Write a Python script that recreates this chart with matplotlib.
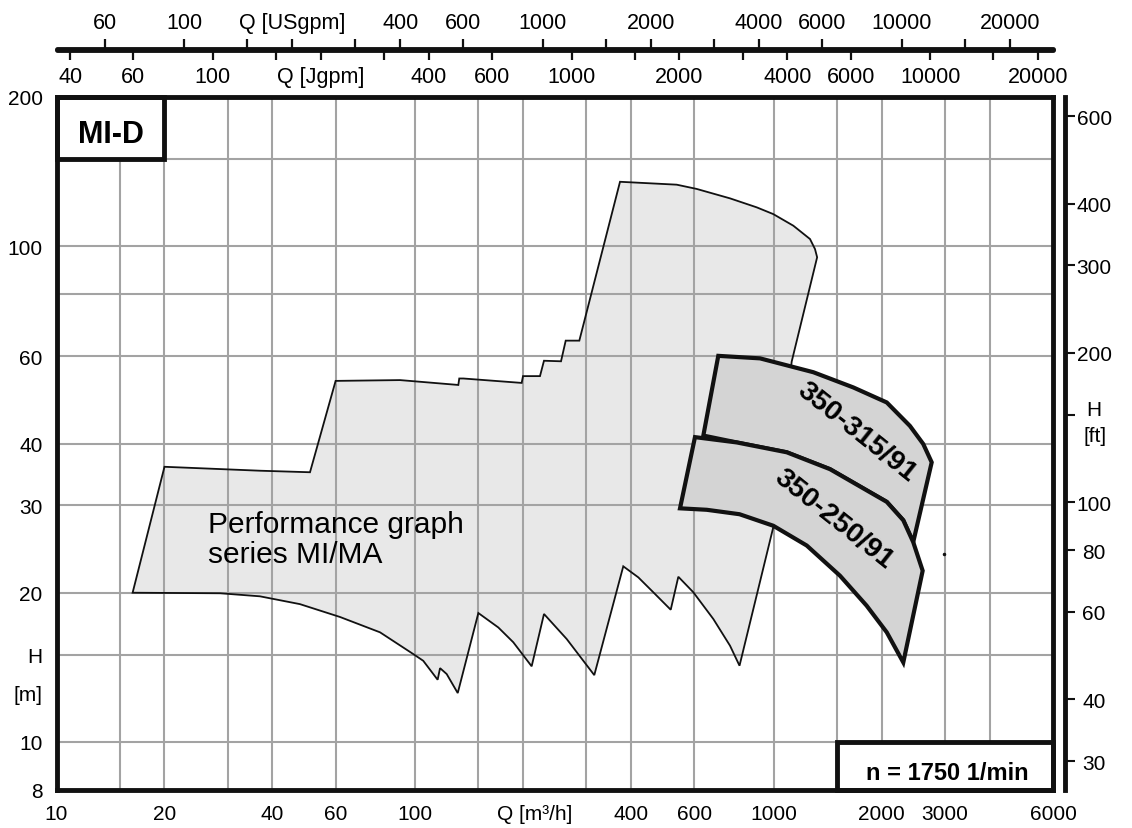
import matplotlib.pyplot as plt
from matplotlib.patches import Rectangle
from matplotlib.ticker import NullLocator
from matplotlib.transforms import blended_transform_factory

plt.rcParams['font.family'] = ['Liberation Sans', 'DejaVu Sans']

# unit conversions
M_TO_FT = 3.28084
M3H_TO_USGPM = 4.4029
M3H_TO_JGPM = 3.6662

# performance envelope (Q in m3/h, H in m), traced clockwise
env_q = [16.3, 20.0, 36.9, 50.9, 60.0, 90.7, 131.9, 132.7, 136.2, 198.1, 199.8, 222.8,
         228.6, 255.0, 262.8, 286.8, 372.4, 535.8, 609, 754.5, 895.5, 996, 1133, 1261,
         1302, 1320,
         1121, 996, 802, 754.5, 678, 596.3, 541.5, 515.7, 461.2, 418.8, 380.3, 315.7,
         264.5, 228.6, 211.2, 187.7, 170.5, 150.0, 131.4, 122.4, 117.3, 115.5, 105.3,
         98.8, 79.8, 61.7, 47.7, 36.9, 28.6]
env_h = [20.0, 35.9, 35.25, 35.0, 53.5, 53.7, 52.5, 54.1, 54.1, 53.0, 54.7, 54.7,
         58.75, 58.6, 64.5, 64.5, 134.9, 133.1, 130.5, 124.9, 119.8, 116.1, 110.0, 103.4,
         98.7, 95.0,
         58.5, 27.1, 14.25, 15.64, 17.7, 20.04, 21.54, 18.48, 20.04, 21.48, 22.61, 13.64,
         16.13, 18.12, 14.21, 15.89, 17.02, 18.2, 12.55, 13.71, 14.09, 13.35, 14.58,
         15.04, 16.64, 17.87, 18.97, 19.67, 19.95]

# pump 350-315/91
p315_q = [699.8, 915, 1288, 1665, 2064, 2395, 2609, 2754, 2446, 2295, 2064, 1853,
          1434, 1086, 787.5, 635.8]
p315_h = [60.1, 59.4, 55.7, 51.9, 48.4, 43.4, 39.9, 36.65, 25.3, 28.0, 30.5, 31.9,
          35.5, 38.4, 40.2, 41.5]

# pump 350-250/91
p250_q = [602.6, 787.5, 1086, 1434, 1853, 2064, 2295, 2446, 2599, 2295, 2064, 1814,
          1529, 1235, 996, 802, 649.8, 547.4]
p250_h = [41.2, 40.2, 38.4, 35.5, 31.9, 30.5, 28.0, 25.3, 22.15, 14.47, 16.64, 18.83,
          21.64, 24.9, 27.3, 28.8, 29.4, 29.6]

grid_q = [15, 20, 30, 40, 60, 100, 150, 200, 300, 400, 600, 1000, 1500, 2000, 3000, 4000]
grid_h = [10, 15, 20, 30, 40, 60, 80, 100, 150]

q_ticks = [10, 20, 40, 60, 100, 215, 400, 600, 1000, 2000, 3000, 6000]
q_labels = ['10', '20', '40', '60', '100', 'Q [m³/h]', '400', '600', '1000', '2000', '3000', '6000']
h_ticks = [8, 10, 12.6, 15, 20, 30, 40, 60, 100, 200]
h_labels = ['8', '10', '[m]', 'H', '20', '30', '40', '60', '100', '200']
ft_ticks = [30, 40, 60, 80, 100, 150, 200, 300, 400, 600]
ft_labels = ['30', '40', '60', '80', '100', 'H', '200', '300', '400', '600']
us_ticks = [60, 100, 150, 200, 300, 400, 600, 1000, 1500, 2000, 3000, 4000, 6000,
            10000, 15000, 20000]
us_labels = ['60', '100', '', 'Q [USgpm]', '', '400', '600', '1000', '', '2000', '',
             '4000', '6000', '10000', '', '20000']
jg_ticks = [40, 60, 100, 150, 200, 300, 400, 600, 1000, 1500, 2000, 3000, 4000, 6000,
            10000, 15000, 20000]
jg_labels = ['40', '60', '100', '', 'Q [Jgpm]', '', '400', '600', '1000', '', '2000', '',
             '4000', '6000', '10000', '', '20000']

INK = '#111111'
fig = plt.figure(figsize=(11.32, 8.29), dpi=100)
L, B = 56.5 / 1132, 1 - 791 / 829
W, HH = (1053 - 56.5) / 1132, (791 - 98) / 829
ax = fig.add_axes([L, B, W, HH])
ax.set_xscale('log')
ax.set_yscale('log')
ax.set_xlim(10, 6000)
ax.set_ylim(8, 200)

ax2 = ax.twinx()
ax2.set_yscale('log')
ax2.set_ylim(8 * M_TO_FT, 200 * M_TO_FT)
ax2.yaxis.set_minor_locator(NullLocator())
ax2.set_yticks(ft_ticks, ft_labels)
for k in ['left', 'top', 'bottom']:
    ax2.spines[k].set_visible(False)
ax2.spines['right'].set_position(('outward', 8.6))
ax2.spines['right'].set_linewidth(3.5)
ax2.spines['right'].set_color(INK)
ax2.tick_params(axis='y', direction='out', length=7, width=1.5, pad=14,
                labelsize=15, color=INK)
for t in ax2.get_yticklabels():
    t.set_horizontalalignment('center')
    if t.get_text() == 'H':
        t.set_verticalalignment('baseline')
tr = blended_transform_factory(fig.transFigure, ax2.transData)
ax2.text(1095 / 1132, 136, '[ft]', transform=tr, ha='center', va='center', fontsize=15)

# grid, envelope, pumps
ax.fill(env_q, env_h, facecolor='#e8e8e8', edgecolor='none', zorder=1)
for q in grid_q:
    ax.axvline(q, color='#a3a3a3', lw=1.5, zorder=1.5)
for h in grid_h:
    ax.axhline(h, color='#a3a3a3', lw=1.5, zorder=1.5)
ax.fill(env_q, env_h, facecolor='none', edgecolor=INK, lw=1.3, zorder=2)
ax.fill(p315_q, p315_h, facecolor='#d4d4d4', edgecolor=INK, lw=3, zorder=3)
ax.fill(p250_q, p250_h, facecolor='#d4d4d4', edgecolor=INK, lw=3, zorder=3.5)
ax.text(1702, 42.3, '350-315/91', rotation=-38.5, rotation_mode='anchor',
        ha='center', va='center', fontsize=20.5, fontweight='bold', zorder=4)
ax.text(1471, 28.2, '350-250/91', rotation=-38.5, rotation_mode='anchor',
        ha='center', va='center', fontsize=20.5, fontweight='bold', zorder=4)
ax.plot([2980], [23.9], 'o', color=INK, ms=1.5, zorder=4)

ax.text(26.4, 26.5, 'Performance graph', fontsize=21.5, va='baseline', zorder=4)
ax.text(26.4, 23.1, 'series MI/MA', fontsize=21.5, va='baseline', zorder=4)

# labelled boxes
ax.add_patch(Rectangle((10, 150), 10, 50, facecolor='white', edgecolor=INK,
                       lw=3.5, zorder=5, clip_on=False))
ax.text(14.14, 162.5, 'MI-D', ha='center', va='baseline', fontsize=22,
        fontweight='bold', zorder=6)
ax.add_patch(Rectangle((1500, 8), 4500, 2, facecolor='white', edgecolor=INK,
                       lw=3.5, zorder=5, clip_on=False))
ax.text(3040, 8.42, 'n = 1750 1/min', ha='center', va='baseline', fontsize=17,
        fontweight='bold', zorder=6)

ax.xaxis.set_minor_locator(NullLocator())
ax.yaxis.set_minor_locator(NullLocator())
ax.set_xticks(q_ticks, q_labels)
ax.set_yticks(h_ticks, h_labels)
ax.tick_params(length=0, labelsize=15, pad=10)
for s in ax.spines.values():
    s.set_linewidth(3.5)
    s.set_color(INK)
    s.set_zorder(10)

# flow scales on top
y_line = 1 - 50.5 / 829
for ticks, labels, factor, side in [(us_ticks, us_labels, M3H_TO_USGPM, 'top'),
                                    (jg_ticks, jg_labels, M3H_TO_JGPM, 'bottom')]:
    a = fig.add_axes([L, y_line, W, 1e-4])
    a.set_xscale('log')
    a.set_xlim(10 * factor, 6000 * factor)
    a.xaxis.set_minor_locator(NullLocator())
    a.set_xticks(ticks, labels)
    a.set_yticks([])
    a.patch.set_visible(False)
    for k in ['left', 'right', 'top', 'bottom']:
        a.spines[k].set_visible(k == side)
    a.spines[side].set_linewidth(3.5)
    a.spines[side].set_color(INK)
    a.spines[side].set_capstyle('round')
    if side == 'top':
        a.xaxis.tick_top()
    else:
        a.xaxis.tick_bottom()
    a.tick_params(axis='x', direction='out', length=7, width=1.6, pad=5,
                  labelsize=15.5, color=INK)

fig.savefig('out.png', dpi=100)
